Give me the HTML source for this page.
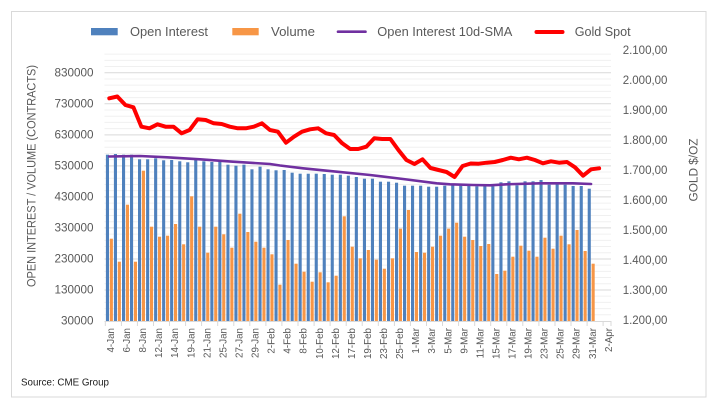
<!DOCTYPE html>
<html><head><meta charset="utf-8"><style>
html,body{margin:0;padding:0;background:#fff;}
svg{display:block;font-family:"Liberation Sans",Arial,sans-serif;}
</style></head><body>
<svg width="728" height="412" viewBox="0 0 728 412" xmlns="http://www.w3.org/2000/svg">
<rect x="0" y="0" width="728" height="412" fill="#fff"/>
<rect x="11.5" y="11.5" width="694.5" height="385.5" fill="#fff" stroke="#d9d9d9" stroke-width="1"/>

<!-- minor gridlines -->
<g stroke="#f0f0f0" stroke-width="1">
<line x1="104.5" x2="611" y1="314.79" y2="314.79"/><line x1="104.5" x2="611" y1="308.59" y2="308.59"/><line x1="104.5" x2="611" y1="302.38" y2="302.38"/><line x1="104.5" x2="611" y1="296.18" y2="296.18"/>
<line x1="104.5" x2="611" y1="283.76" y2="283.76"/><line x1="104.5" x2="611" y1="277.56" y2="277.56"/><line x1="104.5" x2="611" y1="271.35" y2="271.35"/><line x1="104.5" x2="611" y1="265.15" y2="265.15"/>
<line x1="104.5" x2="611" y1="252.73" y2="252.73"/><line x1="104.5" x2="611" y1="246.53" y2="246.53"/><line x1="104.5" x2="611" y1="240.32" y2="240.32"/><line x1="104.5" x2="611" y1="234.12" y2="234.12"/>
<line x1="104.5" x2="611" y1="221.70" y2="221.70"/><line x1="104.5" x2="611" y1="215.50" y2="215.50"/><line x1="104.5" x2="611" y1="209.29" y2="209.29"/><line x1="104.5" x2="611" y1="203.09" y2="203.09"/>
<line x1="104.5" x2="611" y1="190.67" y2="190.67"/><line x1="104.5" x2="611" y1="184.47" y2="184.47"/><line x1="104.5" x2="611" y1="178.26" y2="178.26"/><line x1="104.5" x2="611" y1="172.06" y2="172.06"/>
<line x1="104.5" x2="611" y1="159.64" y2="159.64"/><line x1="104.5" x2="611" y1="153.44" y2="153.44"/><line x1="104.5" x2="611" y1="147.23" y2="147.23"/><line x1="104.5" x2="611" y1="141.03" y2="141.03"/>
<line x1="104.5" x2="611" y1="128.61" y2="128.61"/><line x1="104.5" x2="611" y1="122.41" y2="122.41"/><line x1="104.5" x2="611" y1="116.20" y2="116.20"/><line x1="104.5" x2="611" y1="110.00" y2="110.00"/>
<line x1="104.5" x2="611" y1="97.58" y2="97.58"/><line x1="104.5" x2="611" y1="91.38" y2="91.38"/><line x1="104.5" x2="611" y1="85.17" y2="85.17"/><line x1="104.5" x2="611" y1="78.97" y2="78.97"/>
<line x1="104.5" x2="611" y1="66.55" y2="66.55"/><line x1="104.5" x2="611" y1="60.35" y2="60.35"/><line x1="104.5" x2="611" y1="54.14" y2="54.14"/>
</g>
<!-- major gridlines -->
<g stroke="#d9d9d9" stroke-width="1">
<line x1="104.5" x2="611" y1="289.97" y2="289.97"/><line x1="104.5" x2="611" y1="258.94" y2="258.94"/><line x1="104.5" x2="611" y1="227.91" y2="227.91"/><line x1="104.5" x2="611" y1="196.88" y2="196.88"/>
<line x1="104.5" x2="611" y1="165.85" y2="165.85"/><line x1="104.5" x2="611" y1="134.82" y2="134.82"/><line x1="104.5" x2="611" y1="103.79" y2="103.79"/><line x1="104.5" x2="611" y1="72.76" y2="72.76"/>
</g>

<!-- Open Interest bars -->
<g fill="#4f81bd">
<rect x="105.9" y="154.7" width="3.1" height="166.3"/><rect x="113.9" y="154" width="3.1" height="167"/><rect x="122.0" y="154.7" width="3.1" height="166.3"/><rect x="130.0" y="154.7" width="3.1" height="166.3"/>
<rect x="138.0" y="159.3" width="3.1" height="161.7"/><rect x="146.1" y="159.3" width="3.1" height="161.7"/><rect x="154.1" y="158.3" width="3.1" height="162.7"/><rect x="162.1" y="160.3" width="3.1" height="160.7"/>
<rect x="170.1" y="160" width="3.1" height="161"/><rect x="178.2" y="161.3" width="3.1" height="159.7"/><rect x="186.2" y="162.3" width="3.1" height="158.7"/><rect x="194.2" y="160" width="3.1" height="161"/>
<rect x="202.3" y="161.3" width="3.1" height="159.7"/><rect x="210.3" y="162" width="3.1" height="159"/><rect x="218.3" y="161.3" width="3.1" height="159.7"/><rect x="226.4" y="164.7" width="3.1" height="156.3"/>
<rect x="234.4" y="165.7" width="3.1" height="155.3"/><rect x="242.4" y="164.7" width="3.1" height="156.3"/><rect x="250.4" y="169.3" width="3.1" height="151.7"/><rect x="258.5" y="166.7" width="3.1" height="154.3"/>
<rect x="266.5" y="169.3" width="3.1" height="151.7"/><rect x="274.5" y="170.3" width="3.1" height="150.7"/><rect x="282.6" y="170" width="3.1" height="151"/><rect x="290.6" y="172.7" width="3.1" height="148.3"/>
<rect x="298.6" y="173.7" width="3.1" height="147.3"/><rect x="306.7" y="173.7" width="3.1" height="147.3"/><rect x="314.7" y="173.7" width="3.1" height="147.3"/><rect x="322.7" y="174" width="3.1" height="147"/>
<rect x="330.7" y="174.7" width="3.1" height="146.3"/><rect x="338.8" y="174.7" width="3.1" height="146.3"/><rect x="346.8" y="175.7" width="3.1" height="145.3"/><rect x="354.8" y="177" width="3.1" height="144"/>
<rect x="362.9" y="178.7" width="3.1" height="142.3"/><rect x="370.9" y="178.7" width="3.1" height="142.3"/><rect x="378.9" y="181.7" width="3.1" height="139.3"/><rect x="387.0" y="181.7" width="3.1" height="139.3"/>
<rect x="395.0" y="182.7" width="3.1" height="138.3"/><rect x="403.0" y="185.7" width="3.1" height="135.3"/><rect x="411.0" y="185.7" width="3.1" height="135.3"/><rect x="419.1" y="185.7" width="3.1" height="135.3"/>
<rect x="427.1" y="186.7" width="3.1" height="134.3"/><rect x="435.1" y="186.7" width="3.1" height="134.3"/><rect x="443.2" y="185.7" width="3.1" height="135.3"/><rect x="451.2" y="185.5" width="3.1" height="135.5"/>
<rect x="459.2" y="185.7" width="3.1" height="135.3"/><rect x="467.3" y="185.7" width="3.1" height="135.3"/><rect x="475.3" y="186.3" width="3.1" height="134.7"/><rect x="483.3" y="186.3" width="3.1" height="134.7"/>
<rect x="491.3" y="186.3" width="3.1" height="134.7"/><rect x="499.4" y="182.3" width="3.1" height="138.7"/><rect x="507.4" y="181.3" width="3.1" height="139.7"/><rect x="515.4" y="185.3" width="3.1" height="135.7"/>
<rect x="523.5" y="181.3" width="3.1" height="139.7"/><rect x="531.5" y="181.3" width="3.1" height="139.7"/><rect x="539.5" y="180" width="3.1" height="141"/><rect x="547.6" y="184.7" width="3.1" height="136.3"/>
<rect x="555.6" y="184" width="3.1" height="137"/><rect x="563.6" y="184.7" width="3.1" height="136.3"/><rect x="571.6" y="186" width="3.1" height="135"/><rect x="579.7" y="186" width="3.1" height="135"/>
<rect x="587.7" y="188.7" width="3.1" height="132.3"/>
</g>

<!-- Volume bars -->
<g fill="#f79646">
<rect x="109.8" y="238.7" width="3.1" height="82.3"/><rect x="117.8" y="261.7" width="3.1" height="59.3"/><rect x="125.9" y="204.7" width="3.1" height="116.3"/><rect x="133.9" y="261.7" width="3.1" height="59.3"/>
<rect x="141.9" y="170.7" width="3.1" height="150.3"/><rect x="150.0" y="226.7" width="3.1" height="94.3"/><rect x="158.0" y="236.7" width="3.1" height="84.3"/><rect x="166.0" y="235.7" width="3.1" height="85.3"/>
<rect x="174.0" y="224" width="3.1" height="97"/><rect x="182.1" y="244.3" width="3.1" height="76.7"/><rect x="190.1" y="196.3" width="3.1" height="124.7"/><rect x="198.1" y="226.7" width="3.1" height="94.3"/>
<rect x="206.2" y="252.7" width="3.1" height="68.3"/><rect x="214.2" y="226.7" width="3.1" height="94.3"/><rect x="222.2" y="234.3" width="3.1" height="86.7"/><rect x="230.3" y="247.7" width="3.1" height="73.3"/>
<rect x="238.3" y="213.7" width="3.1" height="107.3"/><rect x="246.3" y="232" width="3.1" height="89"/><rect x="254.3" y="241.7" width="3.1" height="79.3"/><rect x="262.4" y="247.7" width="3.1" height="73.3"/>
<rect x="270.4" y="254.3" width="3.1" height="66.7"/><rect x="278.4" y="284.7" width="3.1" height="36.3"/><rect x="286.5" y="240" width="3.1" height="81"/><rect x="294.5" y="263.7" width="3.1" height="57.3"/>
<rect x="302.5" y="271.7" width="3.1" height="49.3"/><rect x="310.6" y="281.7" width="3.1" height="39.3"/><rect x="318.6" y="272.3" width="3.1" height="48.7"/><rect x="326.6" y="282.3" width="3.1" height="38.7"/>
<rect x="334.6" y="275.7" width="3.1" height="45.3"/><rect x="342.7" y="216.3" width="3.1" height="104.7"/><rect x="350.7" y="246.7" width="3.1" height="74.3"/><rect x="358.7" y="258.3" width="3.1" height="62.7"/>
<rect x="366.8" y="250" width="3.1" height="71"/><rect x="374.8" y="259.7" width="3.1" height="61.3"/><rect x="382.8" y="268.7" width="3.1" height="52.3"/><rect x="390.9" y="258.3" width="3.1" height="62.7"/>
<rect x="398.9" y="228.7" width="3.1" height="92.3"/><rect x="406.9" y="210" width="3.1" height="111"/><rect x="414.9" y="252" width="3.1" height="69"/><rect x="423.0" y="252.7" width="3.1" height="68.3"/>
<rect x="431.0" y="246.7" width="3.1" height="74.3"/><rect x="439.0" y="235.7" width="3.1" height="85.3"/><rect x="447.1" y="228.7" width="3.1" height="92.3"/><rect x="455.1" y="222.7" width="3.1" height="98.3"/>
<rect x="463.1" y="236.7" width="3.1" height="84.3"/><rect x="471.2" y="240" width="3.1" height="81"/><rect x="479.2" y="246" width="3.1" height="75"/><rect x="487.2" y="244" width="3.1" height="77"/>
<rect x="495.2" y="274" width="3.1" height="47"/><rect x="503.3" y="270.7" width="3.1" height="50.3"/><rect x="511.3" y="256.7" width="3.1" height="64.3"/><rect x="519.3" y="245.7" width="3.1" height="75.3"/>
<rect x="527.4" y="250.7" width="3.1" height="70.3"/><rect x="535.4" y="256.7" width="3.1" height="64.3"/><rect x="543.4" y="237.7" width="3.1" height="83.3"/><rect x="551.5" y="248.7" width="3.1" height="72.3"/>
<rect x="559.5" y="235.7" width="3.1" height="85.3"/><rect x="567.5" y="244.3" width="3.1" height="76.7"/><rect x="575.5" y="230" width="3.1" height="91"/><rect x="583.6" y="251" width="3.1" height="70"/>
<rect x="591.6" y="263.7" width="3.1" height="57.3"/>
</g>

<!-- axis line & ticks -->
<line x1="104.5" x2="611" y1="321.5" y2="321.5" stroke="#d9d9d9" stroke-width="1"/>
<g stroke="#d9d9d9" stroke-width="1">
<line x1="105.3" x2="105.3" y1="321" y2="326"/><line x1="121.4" x2="121.4" y1="321" y2="326"/><line x1="137.4" x2="137.4" y1="321" y2="326"/><line x1="153.5" x2="153.5" y1="321" y2="326"/>
<line x1="169.5" x2="169.5" y1="321" y2="326"/><line x1="185.6" x2="185.6" y1="321" y2="326"/><line x1="201.6" x2="201.6" y1="321" y2="326"/><line x1="217.7" x2="217.7" y1="321" y2="326"/>
<line x1="233.8" x2="233.8" y1="321" y2="326"/><line x1="249.8" x2="249.8" y1="321" y2="326"/><line x1="265.9" x2="265.9" y1="321" y2="326"/><line x1="281.9" x2="281.9" y1="321" y2="326"/>
<line x1="298.0" x2="298.0" y1="321" y2="326"/><line x1="314.1" x2="314.1" y1="321" y2="326"/><line x1="330.1" x2="330.1" y1="321" y2="326"/><line x1="346.2" x2="346.2" y1="321" y2="326"/>
<line x1="362.2" x2="362.2" y1="321" y2="326"/><line x1="378.3" x2="378.3" y1="321" y2="326"/><line x1="394.4" x2="394.4" y1="321" y2="326"/><line x1="410.4" x2="410.4" y1="321" y2="326"/>
<line x1="426.5" x2="426.5" y1="321" y2="326"/><line x1="442.5" x2="442.5" y1="321" y2="326"/><line x1="458.6" x2="458.6" y1="321" y2="326"/><line x1="474.7" x2="474.7" y1="321" y2="326"/>
<line x1="490.7" x2="490.7" y1="321" y2="326"/><line x1="506.8" x2="506.8" y1="321" y2="326"/><line x1="522.8" x2="522.8" y1="321" y2="326"/><line x1="538.9" x2="538.9" y1="321" y2="326"/>
<line x1="555.0" x2="555.0" y1="321" y2="326"/><line x1="571.0" x2="571.0" y1="321" y2="326"/><line x1="587.1" x2="587.1" y1="321" y2="326"/><line x1="603.1" x2="603.1" y1="321" y2="326"/>
<line x1="611" x2="611" y1="321" y2="326"/>
</g>

<!-- 10d SMA -->
<polyline fill="none" stroke="#7030a0" stroke-width="2.6" stroke-linejoin="round" stroke-linecap="round"
points="109.3,156.5 140,156 167,157.3 200,159.3 233,161.7 270,164 280,165.5 303,168.3 336.7,171.7 370,175 403,179 436.7,183.3 450,184.3 473,185 490,185.3 506.7,184.3 540,183.3 573,183.3 591.1,184"/>

<!-- Gold Spot -->
<polyline fill="none" stroke="#ff0000" stroke-width="4" stroke-linejoin="round" stroke-linecap="round"
points="109.3,98.3 117.3,96.5 125.4,105 133.4,107.3 141.4,126.7 149.5,128.3 157.5,124.3 165.5,126.7 173.5,126.7 181.6,133.3 189.6,130 197.6,119.3 205.7,120 213.7,123.3 221.7,124 229.8,126.7 237.8,128.3 245.8,128.3 253.8,126.7 261.9,123.3 269.9,130 277.9,131.7 286,142.7 294,136.7 302,131.7 310.1,129.3 318.1,128.3 326.1,133.3 334.1,135 342.2,143.3 350.2,149 358.2,149 366.3,146.7 374.3,138.3 382.3,139 390.4,139 398.4,150 406.4,160 414.4,164 422.5,159.3 430.5,168 438.5,170 446.6,172 454.6,177 462.6,166 470.7,163.5 478.7,163.7 486.7,162.7 494.7,162 502.8,160 510.8,157.7 518.8,159.3 526.9,157.7 534.9,160 542.9,163.3 551,161.3 559,162.7 567,162 575,167.3 583.1,175.7 591.1,169.3 599.1,168.3"/>

<!-- Left axis labels -->
<g fill="#595959" font-size="11.7" text-anchor="end" dominant-baseline="central">
<text x="93.5" y="321">30000</text>
<text x="93.5" y="289.97">130000</text>
<text x="93.5" y="258.94">230000</text>
<text x="93.5" y="227.91">330000</text>
<text x="93.5" y="196.88">430000</text>
<text x="93.5" y="165.85">530000</text>
<text x="93.5" y="134.82">630000</text>
<text x="93.5" y="103.79">730000</text>
<text x="93.5" y="72.76">830000</text>
</g>

<!-- Right axis labels -->
<g fill="#595959" font-size="11.5" text-anchor="start" dominant-baseline="central">
<text x="622.7" y="321">1.200,00</text>
<text x="622.7" y="291">1.300,00</text>
<text x="622.7" y="261">1.400,00</text>
<text x="622.7" y="231">1.500,00</text>
<text x="622.7" y="201">1.600,00</text>
<text x="622.7" y="171">1.700,00</text>
<text x="622.7" y="141">1.800,00</text>
<text x="622.7" y="111">1.900,00</text>
<text x="622.7" y="81">2.000,00</text>
<text x="622.7" y="51">2.100,00</text>
</g>

<!-- Axis titles -->
<text transform="translate(32.7,176) rotate(-90)" fill="#595959" font-size="11.5" text-anchor="middle" dominant-baseline="central" textLength="222" lengthAdjust="spacingAndGlyphs">OPEN INTEREST / VOLUME (CONTRACTS)</text>
<text transform="translate(694.3,170) rotate(-90)" fill="#595959" font-size="11.5" text-anchor="middle" dominant-baseline="central" textLength="63" lengthAdjust="spacingAndGlyphs">GOLD $/OZ</text>

<!-- X axis labels -->
<g fill="#595959" font-size="9.8" text-anchor="end" dominant-baseline="central">
<text transform="translate(111.5,328) rotate(-90)">4-Jan</text>
<text transform="translate(127.6,328) rotate(-90)">6-Jan</text>
<text transform="translate(143.6,328) rotate(-90)">8-Jan</text>
<text transform="translate(159.7,328) rotate(-90)">12-Jan</text>
<text transform="translate(175.7,328) rotate(-90)">14-Jan</text>
<text transform="translate(191.8,328) rotate(-90)">19-Jan</text>
<text transform="translate(207.9,328) rotate(-90)">21-Jan</text>
<text transform="translate(223.9,328) rotate(-90)">25-Jan</text>
<text transform="translate(240.0,328) rotate(-90)">27-Jan</text>
<text transform="translate(256.0,328) rotate(-90)">29-Jan</text>
<text transform="translate(272.1,328) rotate(-90)">2-Feb</text>
<text transform="translate(288.2,328) rotate(-90)">4-Feb</text>
<text transform="translate(304.2,328) rotate(-90)">8-Feb</text>
<text transform="translate(320.3,328) rotate(-90)">10-Feb</text>
<text transform="translate(336.3,328) rotate(-90)">12-Feb</text>
<text transform="translate(352.4,328) rotate(-90)">17-Feb</text>
<text transform="translate(368.5,328) rotate(-90)">19-Feb</text>
<text transform="translate(384.5,328) rotate(-90)">23-Feb</text>
<text transform="translate(400.6,328) rotate(-90)">25-Feb</text>
<text transform="translate(416.6,328) rotate(-90)">1-Mar</text>
<text transform="translate(432.7,328) rotate(-90)">3-Mar</text>
<text transform="translate(448.8,328) rotate(-90)">5-Mar</text>
<text transform="translate(464.8,328) rotate(-90)">9-Mar</text>
<text transform="translate(480.9,328) rotate(-90)">11-Mar</text>
<text transform="translate(496.9,328) rotate(-90)">15-Mar</text>
<text transform="translate(513.0,328) rotate(-90)">17-Mar</text>
<text transform="translate(529.1,328) rotate(-90)">19-Mar</text>
<text transform="translate(545.1,328) rotate(-90)">23-Mar</text>
<text transform="translate(561.2,328) rotate(-90)">25-Mar</text>
<text transform="translate(577.2,328) rotate(-90)">29-Mar</text>
<text transform="translate(593.3,328) rotate(-90)">31-Mar</text>
<text transform="translate(609.4,328) rotate(-90)">2-Apr</text>
</g>

<!-- Legend -->
<rect x="91" y="28" width="26.7" height="7.3" fill="#4f81bd"/>
<text x="130" y="31.5" fill="#595959" font-size="13" dominant-baseline="central" textLength="78" lengthAdjust="spacingAndGlyphs">Open Interest</text>
<rect x="232.3" y="28" width="26.4" height="7.3" fill="#f79646"/>
<text x="271" y="31.5" fill="#595959" font-size="13" dominant-baseline="central" textLength="44" lengthAdjust="spacingAndGlyphs">Volume</text>
<line x1="338" y1="31.7" x2="365.5" y2="31.7" stroke="#7030a0" stroke-width="2.6" stroke-linecap="round"/>
<text x="377.3" y="31.5" fill="#595959" font-size="13" dominant-baseline="central" textLength="135" lengthAdjust="spacingAndGlyphs">Open Interest 10d-SMA</text>
<line x1="536.5" y1="32" x2="562.5" y2="32" stroke="#ff0000" stroke-width="4" stroke-linecap="round"/>
<text x="574.7" y="31.5" fill="#595959" font-size="13" dominant-baseline="central" textLength="56" lengthAdjust="spacingAndGlyphs">Gold Spot</text>

<!-- Source -->
<text x="21" y="385.5" fill="#1a1a1a" font-size="10.5" textLength="88" lengthAdjust="spacingAndGlyphs">Source: CME Group</text>
</svg>
</body></html>
